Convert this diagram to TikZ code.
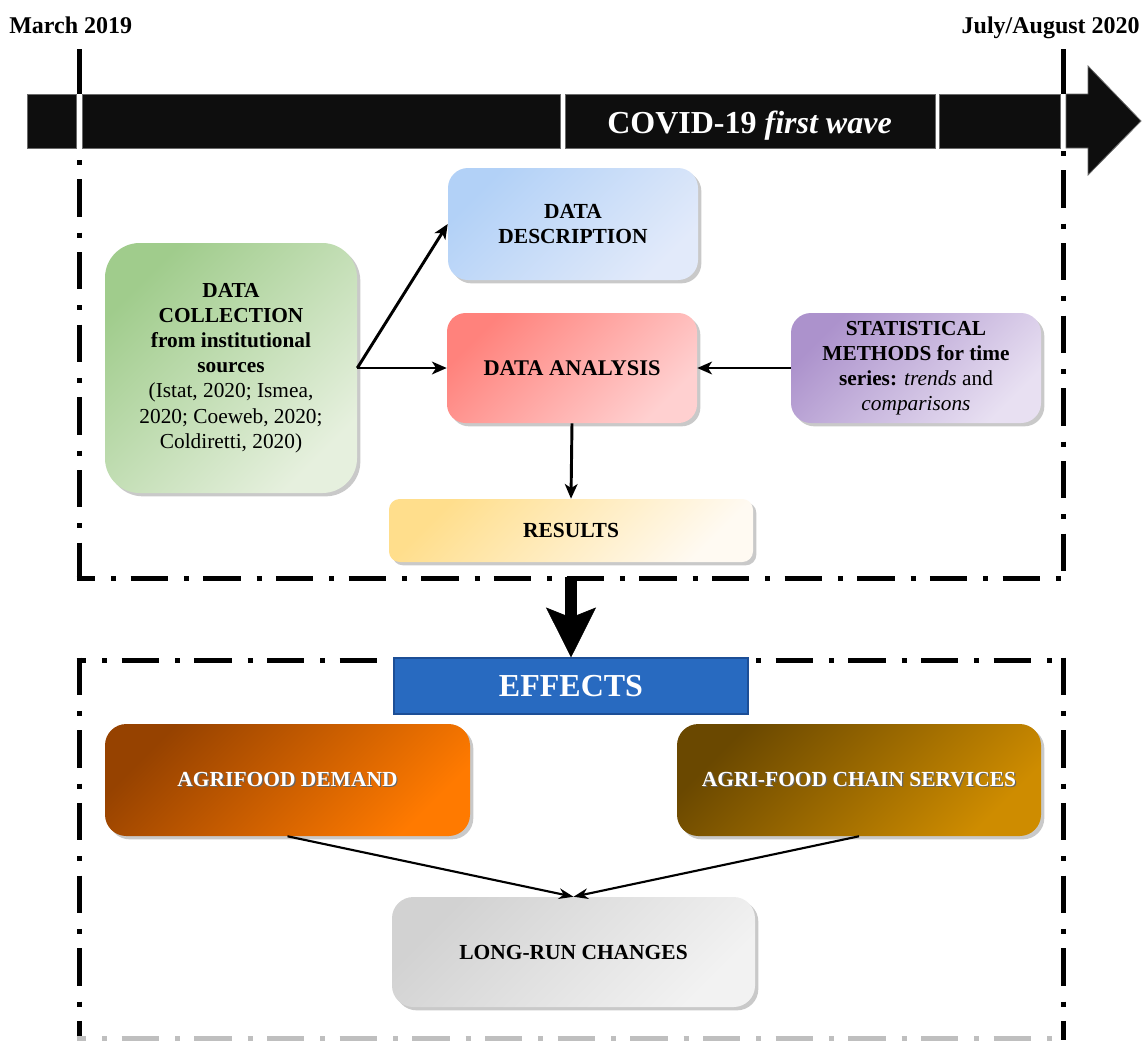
\documentclass[tikz,border=0pt]{standalone}
\usepackage{fontspec}
\setmainfont{Liberation Serif}
\usetikzlibrary{arrows.meta,shadows}
\definecolor{barfill}{HTML}{0E0E0E}
\definecolor{bardraw}{HTML}{6A6A6A}
\definecolor{descA}{RGB}{178,209,247}
\definecolor{descB}{RGB}{226,234,250}
\definecolor{anaA}{RGB}{255,130,124}
\definecolor{anaB}{RGB}{255,208,208}
\definecolor{resA}{RGB}{255,222,140}
\definecolor{resB}{RGB}{255,250,242}
\definecolor{colA}{RGB}{160,204,140}
\definecolor{colB}{RGB}{230,240,222}
\definecolor{statA}{RGB}{172,146,204}
\definecolor{statB}{RGB}{232,224,242}
\definecolor{demA}{RGB}{150,66,0}
\definecolor{demB}{RGB}{255,122,0}
\definecolor{serA}{RGB}{106,72,0}
\definecolor{serB}{RGB}{206,140,0}
\definecolor{lrA}{RGB}{210,210,210}
\definecolor{lrB}{RGB}{242,242,242}
\definecolor{effFill}{RGB}{40,106,192}
\definecolor{effDraw}{RGB}{28,78,150}
\newcommand\shtext[1]{\leavevmode\rlap{\kern0.9pt\raisebox{-0.9pt}{\textcolor{black!60}{#1}}}#1}
\begin{document}
\begin{tikzpicture}[x=0.75pt,y=-0.75pt,
 rbox/.style={rounded corners=#1, align=center, inner sep=0pt, drop shadow={shadow xshift=2.5pt,shadow yshift=-2.5pt,opacity=0.35,fill=black!60}},
 sz/.style 2 args={minimum width=#1*0.75pt, minimum height=#2*0.75pt},
 shd/.style 2 args={top color=#1, bottom color=#2, shading angle=45},
 bt/.style={font=\fontsize{16.1}{18.9}\selectfont\bfseries},
 rt/.style={font=\fontsize{16}{18.9}\selectfont},
 frame/.style={line width=3.75pt, dash pattern=on 28pt off 12pt on 3.75pt off 10.75pt},
 seg/.style={fill=barfill, draw=bardraw, line width=0.6pt},
 conn/.style={line width=2.2pt, -{Stealth[length=11pt,width=9.5pt,inset=3pt]}},
 conn2/.style={line width=1.6pt, -{Stealth[length=11pt,width=8pt,inset=3.5pt]}},
 date/.style={font=\fontsize{18}{20}\selectfont\bfseries, inner sep=0pt}
]
\useasboundingbox (0,0) rectangle (1142,1040);
\fill[white] (0,0) rectangle (1142,1040);

% timeline bar
\draw[seg] (27,94) rectangle (76,148);
\draw[seg] (82,94) rectangle (560,148);
\draw[seg] (565,94) rectangle (935,148);
\draw[seg] (939,94) rectangle (1060,148);
\draw[seg] (1066,94) -- (1088,94) -- (1088,66) -- (1141,121) -- (1088,175) -- (1088,148) -- (1066,148) -- cycle;
\node[font=\fontsize{24}{26}\selectfont\bfseries, text=white, anchor=base, inner sep=0pt] (covid) at (749.5,133) {COVID-19 \textit{first wave}};

\node[date, anchor=base west] (mar) at (9,33) {March 2019};
\node[date, anchor=base east] (jul) at (1140,33) {July/August 2020};

% frames
\draw[line width=3.75pt] (79,49) -- (79,94);
\draw[line width=3.75pt] (1063,49) -- (1063,94);
\draw[frame, dash phase=31pt] (79,148) -- (79,580.5);
\draw[frame, dash phase=37.75pt] (1063,148) -- (1063,580.5);
\draw[frame, dash phase=13.9pt] (76.5,578) -- (1065.5,578);

\draw[frame, dash phase=20.6pt] (76.5,660) -- (1065.5,660);
\draw[frame] (79,657.5) -- (79,1040);
\draw[frame] (1063,657.5) -- (1063,1040);
\draw[frame, draw=black!25, dash phase=20.6pt] (76.5,1038) -- (1065.5,1038);

% upper boxes
\node[rbox=26pt, sz={252}{250}, shd={colA}{colB}, rt] (coll) at (231,368)
 {\textbf{DATA}\\\textbf{COLLECTION}\\\textbf{from institutional}\\\textbf{sources}\\(Istat, 2020; Ismea,\\2020; Coeweb, 2020;\\Coldiretti, 2020)};
\node[rbox=15pt, sz={250}{112}, shd={descA}{descB}, bt] (desc) at (573,224) {DATA\\DESCRIPTION};
\node[rbox=14pt, sz={250}{110}, shd={anaA}{anaB}, bt, font=\fontsize{16.8}{19}\selectfont\bfseries] (ana) at (572,368) {DATA ANALYSIS};
\node[rbox=15pt, sz={250}{110}, shd={statA}{statB}, rt] (stat) at (916,368)
 {\textbf{STATISTICAL}\\\textbf{METHODS for time}\\\textbf{series:} \textit{trends} and\\\textit{comparisons}};
\node[rbox=8pt, sz={364}{63}, shd={resA}{resB}, bt] (res) at (571,530.5) {RESULTS};

\draw[conn] (coll.east) -- (desc.west);
\draw[conn] (coll.east) -- (ana.west);
\draw[conn] (stat.west) -- (ana.east);
\draw[conn] (ana.south) -- (res.north);

% effects
\node[draw=effDraw, fill=effFill, line width=0.8pt, sz={354}{56}, inner sep=0pt,
 font=\fontsize{24}{26}\selectfont\bfseries, text=white] (eff) at (571,686) {EFFECTS};
\coordinate (upbot) at (571,577);
\draw[line width=9pt, -{Stealth[length=37.5pt,width=37.5pt,inset=7.5pt,line width=0.5pt]}] (upbot) -- (eff.north);

% lower boxes
\node[rbox=16pt, sz={365}{112}, shd={demA}{demB}, bt, text=white] (dem) at (287.5,780) {\shtext{AGRIFOOD DEMAND}};
\node[rbox=16pt, sz={364}{112}, shd={serA}{serB}, bt, text=white] (ser) at (859,780) {\shtext{AGRI-FOOD CHAIN SERVICES}};
\node[rbox=16pt, sz={363}{110}, shd={lrA}{lrB}, bt] (lr) at (573.5,952) {LONG-RUN CHANGES};

\draw[conn2] (dem.south) -- (lr.north);
\draw[conn2] (ser.south) -- (lr.north);
\end{tikzpicture}
\end{document}
